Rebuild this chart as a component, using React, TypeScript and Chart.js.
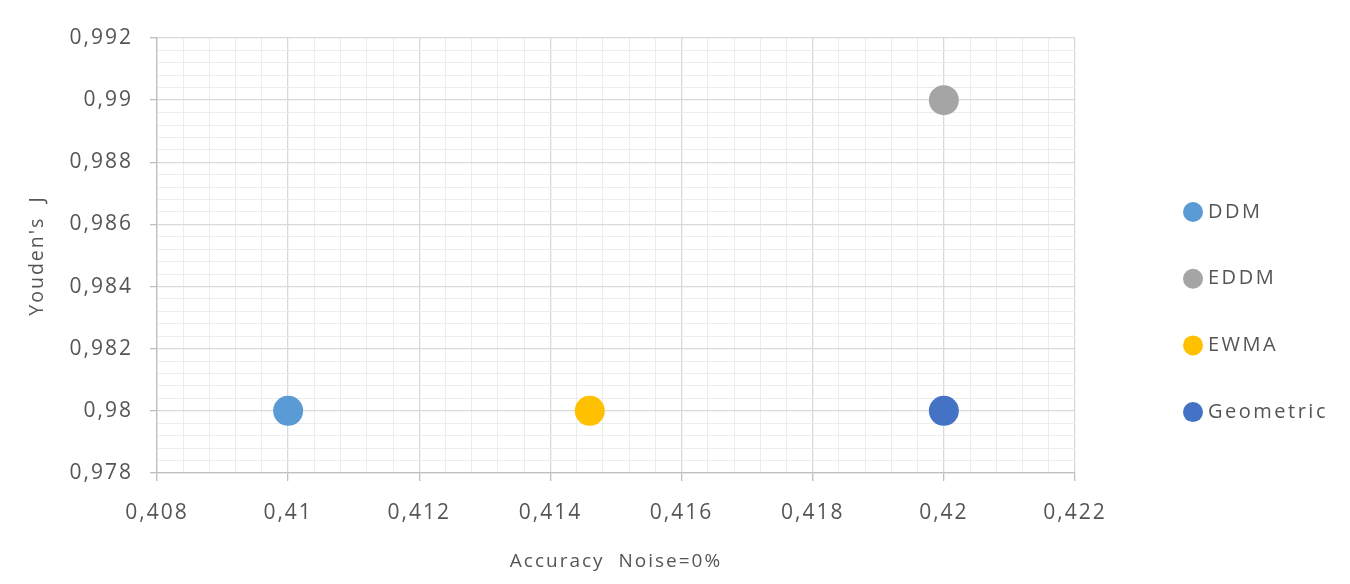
import React, { useEffect, useRef } from "react";
import { Chart, registerables } from "chart.js";

Chart.register(...registerables);

// Detectors and their (accuracy, Youden's J) results at 0% noise
const seriesNames = ["DDM", "EDDM", "EWMA", "Geometric"];
const accuracyValues = [0.41, 0.42, 0.4146, 0.42];
const youdenValues = [0.98, 0.99, 0.98, 0.98];

// Axis ranges
const xMin = 0.408;
const xMax = 0.422;
const yMin = 0.978;
const yMax = 0.992;
const majorStep = 0.002;
const minorStep = 0.0004;

const xTitle = "Accuracy  Noise=0%";
const yTitle = "Youden's  J";

const seriesColors = ["#5B9BD5", "#A5A5A5", "#FFC000", "#4472C4"];

const FONT = "'Open Sans', 'Liberation Sans', sans-serif";
const TEXT = "#555555";

const isMajor = (v: number) => {
  const r = v / majorStep;
  return Math.abs(r - Math.round(r)) < 1e-6;
};

const fmt = (v: number) => String(parseFloat(v.toFixed(4))).replace(".", ",");

// Sets the letter spacing used by Chart.js text rendering
const spacingPlugin = {
  id: "spacing",
  beforeDraw(chart: any) {
    chart.ctx.letterSpacing = "2px";
  },
};

// Right-hand legend drawn as a column of dots with labels
const legendPlugin = {
  id: "sideLegend",
  afterDraw(chart: any) {
    const ctx = chart.ctx as CanvasRenderingContext2D;
    const dotX = 1193;
    const textX = 1208;
    const top = 212;
    const gap = 66.7;
    ctx.save();
    (ctx as any).letterSpacing = "2.5px";
    ctx.font = `20px ${FONT}`;
    ctx.textBaseline = "middle";
    ctx.textAlign = "left";
    chart.data.datasets.forEach((ds: any, i: number) => {
      const y = top + i * gap;
      ctx.beginPath();
      ctx.arc(dotX, y, 10, 0, Math.PI * 2);
      ctx.fillStyle = ds.backgroundColor;
      ctx.fill();
      ctx.fillStyle = TEXT;
      ctx.fillText(ds.label, textX, y);
    });
    ctx.restore();
  },
};

export default function App() {
  const ref = useRef<HTMLCanvasElement | null>(null);

  useEffect(() => {
    if (!ref.current) return;
    const gridColor = (c: any) => (isMajor(c.tick.value) ? "#d9d9d9" : "#ececec");
    const gridWidth = (c: any) => (isMajor(c.tick.value) ? 1.3 : 1);
    const tickMarkColor = (c: any) => (isMajor(c.tick.value) ? "#bfbfbf" : "rgba(0,0,0,0)");

    const chart = new Chart(ref.current, {
      type: "scatter",
      data: {
        datasets: seriesNames.map((name, i) => ({
          label: name,
          data: [{ x: accuracyValues[i], y: youdenValues[i] }],
          backgroundColor: seriesColors[i],
          borderColor: seriesColors[i],
          pointRadius: 15,
          pointHoverRadius: 15,
          borderWidth: 0,
        })),
      },
      options: {
        animation: false,
        responsive: true,
        maintainAspectRatio: false,
        events: [],
        layout: { padding: { top: 38, right: 275, left: 0, bottom: 0 } },
        plugins: { legend: { display: false }, tooltip: { enabled: false } },
        scales: {
          x: {
            type: "linear",
            min: xMin,
            max: xMax,
            afterFit: (s: any) => {
              s.height = 111;
            },
            ticks: {
              stepSize: minorStep,
              autoSkip: false,
              maxRotation: 0,
              padding: 19,
              color: TEXT,
              font: { family: FONT, size: 21 },
              callback: (v: any) => (isMajor(Number(v)) ? fmt(Number(v)) : ""),
            },
            grid: { color: gridColor, lineWidth: gridWidth, tickColor: tickMarkColor, tickLength: 8 },
            border: { color: "#bfbfbf", width: 1.3 },
            title: {
              display: true,
              text: xTitle,
              color: TEXT,
              font: { family: FONT, size: 19 },
              padding: { top: 0, bottom: 11 },
            },
          },
          y: {
            type: "linear",
            min: yMin,
            max: yMax,
            afterFit: (s: any) => {
              s.width = 157;
            },
            ticks: {
              stepSize: minorStep,
              autoSkip: false,
              padding: 17,
              color: TEXT,
              font: { family: FONT, size: 21 },
              callback: (v: any) => (isMajor(Number(v)) ? fmt(Number(v)) : ""),
            },
            grid: { color: gridColor, lineWidth: gridWidth, tickColor: tickMarkColor, tickLength: 7 },
            border: { color: "#bfbfbf", width: 1.3 },
            title: {
              display: true,
              text: yTitle,
              color: TEXT,
              font: { family: FONT, size: 19.5 },
              padding: { top: 26, bottom: 0 },
            },
          },
        },
      },
      plugins: [spacingPlugin, legendPlugin],
    });
    return () => chart.destroy();
  }, []);

  return (
    <div style={{ position: "absolute", left: 0, top: 0, width: 1350, height: 584, background: "#fff" }}>
      <canvas ref={ref} />
    </div>
  );
}
